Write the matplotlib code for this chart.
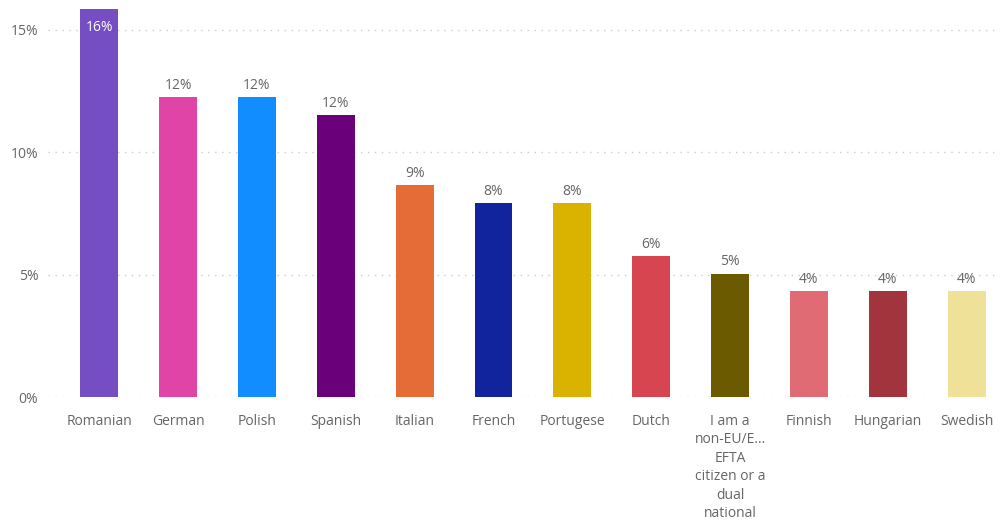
import numpy as np
import matplotlib.pyplot as plt
from matplotlib.ticker import FuncFormatter

plt.rcParams['font.family'] = ['Open Sans', 'DejaVu Sans']

# respondents by nationality (counts out of all responses)
nationalities = ["Romanian", "German", "Polish", "Spanish", "Italian", "French",
                 "Portugese", "Dutch",
                 "I am a\nnon-EU/E...\nEFTA\ncitizen or a\ndual\nnational",
                 "Finnish", "Hungarian", "Swedish"]
counts = [22, 17, 17, 16, 12, 11, 11, 8, 7, 6, 6, 6]
total = 139
colours = ["#744EC2", "#E044A7", "#118DFF", "#6B007B", "#E66C37", "#12239E",
           "#D9B300", "#D64550", "#6B5A00", "#E06B75", "#A1343C", "#F0E199"]

share = np.array(counts) / total * 100
grey = "#666666"

fig = plt.figure(figsize=(10.04, 5.21), dpi=100)
ax = fig.add_axes([0.0478, 0.238, 0.948, 0.7524])

x = np.arange(len(nationalities))
ax.bar(x, share, width=0.48, color=colours, zorder=2)

for i, v in enumerate(share):
    label = f"{v:.0f}%"
    if v > 15.2:
        # top bar: label sits inside
        ax.annotate(label, (i, v), xytext=(0, -8), textcoords="offset points",
                    ha="center", va="top", color="white", fontsize=10)
    else:
        ax.annotate(label, (i, v), xytext=(0, 3), textcoords="offset points",
                    ha="center", va="bottom", color=grey, fontsize=10)

ax.set_xlim(-0.65, 11.42)
ax.set_ylim(0, 16)
ax.set_yticks([0, 5, 10, 15])
ax.yaxis.set_major_formatter(FuncFormatter(lambda v, p: f"{v:.0f}%"))
ax.set_xticks(x)
ax.set_xticklabels(nationalities, linespacing=1.32)

ax.grid(axis="y", color="#cccccc", linestyle=(0, (1, 4)), linewidth=1, zorder=0)
for s in ax.spines.values():
    s.set_visible(False)
ax.tick_params(length=0, colors=grey, labelsize=10)
ax.tick_params(axis="y", pad=7)
ax.tick_params(axis="x", pad=12)

fig.savefig("out.png", dpi=100, facecolor="white")
